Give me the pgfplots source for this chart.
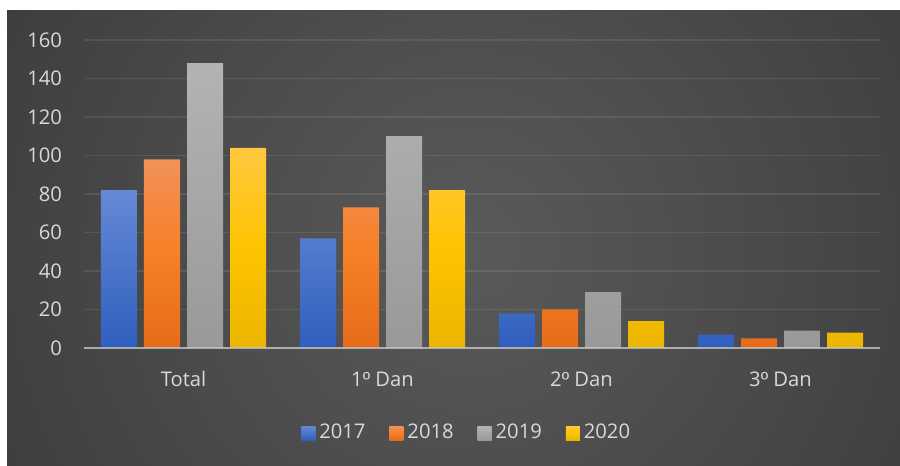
\documentclass[border=0pt]{standalone}
\usepackage{pgfplots}
\pgfplotsset{compat=1.18}
\usepackage{fontspec}
\setmainfont{Open Sans}
\newfontfamily\libsans{Liberation Sans}
\newcommand{\ord}{{\libsans º}}
\definecolor{bgin}{HTML}{5A5A5A}
\definecolor{bgout}{HTML}{222222}
\definecolor{tickc}{HTML}{D9D9D9}
\definecolor{bA}{HTML}{6589D6}
\definecolor{bB}{HTML}{2F5FBE}
\definecolor{oA}{HTML}{F2915A}
\definecolor{oM}{HTML}{F58026}
\definecolor{oB}{HTML}{E66C1A}
\definecolor{gA}{HTML}{B3B3B3}
\definecolor{gB}{HTML}{999999}
\definecolor{yA}{HTML}{FFC83F}
\definecolor{yM}{HTML}{FFC400}
\definecolor{yB}{HTML}{EBB600}
\definecolor{basec}{HTML}{C8C8C8}
\pgfdeclareradialshading{bgshade}{\pgfpoint{0bp}{0bp}}{color(0bp)=(bgin); color(50bp)=(bgout)}
\begin{document}
\begin{tikzpicture}[x=1pt,y=1pt]
\useasboundingbox (0,0) rectangle (450,233);
\fill[white] (0,0) rectangle (450,233);
\begin{scope}
\clip (3.5,0) rectangle (450,227.5);
\fill[bgout] (3.5,0) rectangle (450,227.5);
\shade[shading=bgshade] (235,108) circle (262);
\end{scope}
\begin{axis}[
  at={(42pt,59pt)}, anchor=south west,
  scale only axis, width=398pt, height=154pt,
  ybar, bar width=18pt,
  xmin=-0.5, xmax=3.5, ymin=0, ymax=160,
  xtick={0,1,2,3}, xticklabels={Total,1\ord{} Dan,2\ord{} Dan,3\ord{} Dan},
  ytick={0,20,...,160},
  axis line style={draw=none}, tick style={draw=none},
  ymajorgrids, grid style={white, opacity=0.09, line width=0.9pt},
  ticklabel style={font=\fontsize{10.1}{12}\selectfont, text=tickc},
  /pgf/number format/assume math mode=true,
  yticklabel style={xshift=-7.5pt},
  xticklabel style={yshift=-4pt},
  legend columns=4,
  legend style={draw=none, fill=none, at={(axis description cs:0.482,-0.276)}, anchor=center,
    font=\fontsize{10.1}{12}\selectfont, text=tickc,
    /tikz/every even column/.append style={column sep=10pt}},
  legend image code/.code={\path[#1] (-1.5pt,-3.5pt) rectangle (5.5pt,3.5pt);},
  clip=false,
]
\addplot[draw=none, top color=bA, bottom color=bB, bar shift=-32.25pt] coordinates {(0,82) (1,57) (2,18) (3,7)};
\addplot[draw=none, top color=oA, bottom color=oB, middle color=oM, bar shift=-10.75pt] coordinates {(0,98) (1,73) (2,20) (3,5)};
\addplot[draw=none, top color=gA, bottom color=gB, bar shift=10.75pt] coordinates {(0,148) (1,110) (2,29) (3,9)};
\addplot[draw=none, top color=yA, bottom color=yB, middle color=yM, bar shift=32.25pt] coordinates {(0,104) (1,82) (2,14) (3,8)};
\legend{2017,2018,2019,2020}
\draw[basec, line width=1pt, opacity=0.75] (axis cs:-0.5,0) -- (axis cs:3.5,0);
\end{axis}
\end{tikzpicture}
\end{document}
